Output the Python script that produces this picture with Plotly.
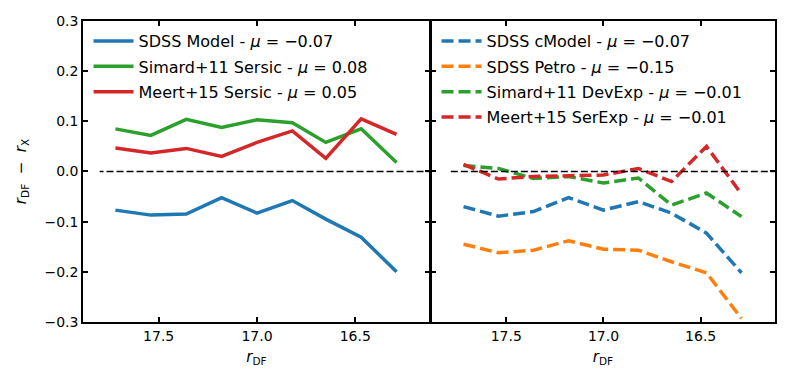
import plotly.graph_objects as go

# bin centres in r_DF (magnitudes)
r_df = [17.72, 17.54, 17.36, 17.18, 17.00, 16.82, 16.65, 16.47, 16.29]

# left panel: single-component fits
sdss_model = [-0.077, -0.087, -0.085, -0.052, -0.083, -0.058, -0.095, -0.131, -0.200]
simard_sersic = [0.085, 0.072, 0.104, 0.088, 0.103, 0.097, 0.058, 0.085, 0.018]
meert_sersic = [0.047, 0.037, 0.046, 0.030, 0.058, 0.081, 0.026, 0.105, 0.074]

# right panel: composite / other magnitudes
sdss_cmodel = [-0.070, -0.089, -0.080, -0.052, -0.077, -0.060, -0.083, -0.123, -0.202]
sdss_petro = [-0.145, -0.162, -0.157, -0.138, -0.155, -0.157, -0.180, -0.202, -0.293]
simard_devexp = [0.012, 0.006, -0.014, -0.010, -0.023, -0.013, -0.067, -0.043, -0.090]
meert_serexp = [0.014, -0.015, -0.010, -0.008, -0.007, 0.006, -0.020, 0.050, -0.045]

left_series = [
    ("SDSS Model", sdss_model, "#1f77b4", "−0.07"),
    ("Simard+11 Sersic", simard_sersic, "#2ca02c", "0.08"),
    ("Meert+15 Sersic", meert_sersic, "#d62728", "0.05"),
]
right_series = [
    ("SDSS cModel", sdss_cmodel, "#1f77b4", "−0.07"),
    ("SDSS Petro", sdss_petro, "#ff7f0e", "−0.15"),
    ("Simard+11 DevExp", simard_devexp, "#2ca02c", "−0.01"),
    ("Meert+15 SerExp", meert_serexp, "#d62728", "−0.01"),
]
zero_x = [16.0, 17.8]

FONT = "DejaVu Sans"
fig = go.Figure()

for name, vals, col, mu in left_series:
    fig.add_trace(go.Scatter(
        x=r_df, y=vals, mode="lines", xaxis="x", yaxis="y",
        line=dict(color=col, width=3.5), legendgroup=name,
        name=f"{name} - <i>μ</i> = {mu}", legend="legend"))

for name, vals, col, mu in right_series:
    fig.add_trace(go.Scatter(
        x=r_df, y=vals, mode="lines", xaxis="x2", yaxis="y2",
        line=dict(color=col, width=3.5, dash="12px,5px"), legendgroup=name,
        name=f"{name} - <i>μ</i> = {mu}", legend="legend2"))

# zero reference lines
for xa, ya in [("x", "y"), ("x2", "y2")]:
    fig.add_trace(go.Scatter(
        x=zero_x, y=[0, 0], mode="lines", xaxis=xa, yaxis=ya,
        line=dict(color="black", width=1.7, dash="7px,3px"),
        showlegend=False, hoverinfo="skip"))

axis_common = dict(
    showline=True, linecolor="black", linewidth=1.5, mirror="ticks",
    ticks="inside", ticklen=5, tickwidth=1.5, tickcolor="black",
    showgrid=False, zeroline=False, automargin=False,
    tickfont=dict(family=FONT, size=14, color="black"),
)
xdict = dict(axis_common, range=[17.885, 16.12], tickvals=[17.5, 17.0, 16.5],
             ticktext=["17.5", "17.0", "16.5"],
             title=dict(text="<i>r</i><sub>DF</sub>",
                        font=dict(family=FONT, size=15, color="black"), standoff=9))
ydict = dict(axis_common, range=[-0.3, 0.3], dtick=0.1, tickformat=".1f")

legend_common = dict(xanchor="left", yanchor="top", bgcolor="rgba(0,0,0,0)",
                     font=dict(family=FONT, size=16, color="black"),
                     itemwidth=40, tracegroupgap=1.5)

# page body adds an 8px offset, so the figure is a bit smaller than the window
fig.update_layout(
    width=782, height=376,
    margin=dict(l=0, r=0, t=0, b=0),
    paper_bgcolor="white", plot_bgcolor="white",
    font=dict(family=FONT, size=14, color="black"),
    xaxis=dict(xdict, domain=[0.0959, 0.5396], anchor="y"),
    xaxis2=dict(xdict, domain=[0.5415, 0.9802], anchor="y2"),
    yaxis=dict(ydict, domain=[0.165, 0.9654], anchor="x",
               title=dict(text="<i>r</i><sub>DF</sub>  −  <i>r</i><sub>X</sub>",
                          font=dict(family=FONT, size=15, color="black"), standoff=14)),
    yaxis2=dict(ydict, domain=[0.165, 0.9654], anchor="x2", showticklabels=False),
    legend=dict(legend_common, x=0.103, y=0.957),
    legend2=dict(legend_common, x=0.548, y=0.957),
)

fig.write_html("out.html")
